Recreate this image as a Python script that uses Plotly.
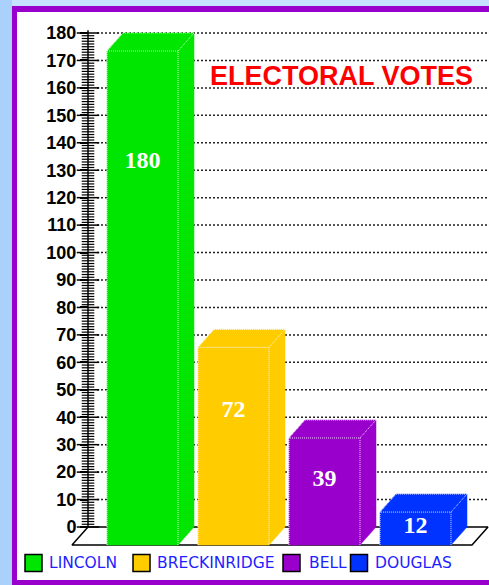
import plotly.graph_objects as go
import math

# ---- data ----
candidates = ["LINCOLN", "BRECKINRIDGE", "BELL", "DOUGLAS"]
electoral_votes = [180, 72, 39, 12]
bar_colors = ["#00e600", "#ffcc00", "#9900cc", "#0033ff"]
tick_values = list(range(0, 181, 10))
tick_labels = [str(v) for v in tick_values]
title_text = "ELECTORAL VOTES"

# ---- geometry (layout constants, pixels) ----
W, H = 489, 585
Y0_PX, Y180_PX = 527, 33              # pixel rows of value 0 and 180
PPU = (Y0_PX - Y180_PX) / 180.0       # pixels per vote
X_UNIT = 91.0                         # pixels per category step
X0_PX = 142.5                         # centre of first bar front face
legend_square_px = [33.5, 141.5, 291.5, 359]
legend_text_px = [47, 155, 307, 373]
legend_row_px = 563

y_lo = -(H - Y0_PX) / PPU
y_hi = Y0_PX / PPU
x_lo = -X0_PX / X_UNIT
x_hi = (W - X0_PX) / X_UNIT

def px_x(p):
    return (p - X0_PX) / X_UNIT

def px_y(p):
    return (Y0_PX - p) / PPU

half_w = 0.39
dx = 16 / X_UNIT      # depth offset in x
dy = 18 / PPU         # depth offset in y
axis_x = px_x(88)

fig = go.Figure()

# floor
fl_x = [axis_x, px_x(488), px_x(488) - dx, axis_x - dx, axis_x]
fl_y = [0, 0, -dy, -dy, 0]
fig.add_trace(go.Scatter(x=fl_x, y=fl_y, mode="lines", fill="toself",
                         fillcolor="white", line=dict(color="black", width=1.5),
                         hoverinfo="skip", showlegend=False))

# dotted gridlines
gx, gy = [], []
for v in tick_values[1:]:
    gx += [px_x(97), x_hi, None]
    gy += [v, v, None]
fig.add_trace(go.Scatter(x=gx, y=gy, mode="lines",
                         line=dict(color="#222222", width=1.5, dash="2px,2px"),
                         hoverinfo="skip", showlegend=False))

# axis line and crossing ticks
fig.add_trace(go.Scatter(x=[axis_x, axis_x], y=[0, 181], mode="lines",
                         line=dict(color="black", width=1.5),
                         hoverinfo="skip", showlegend=False))
minor = [v for v in range(0, 181) if v % 10 != 0]
fig.add_trace(go.Scatter(x=[axis_x] * len(minor), y=minor, mode="markers",
                         marker=dict(symbol="line-ew", size=9,
                                     line=dict(color="black", width=1.2)),
                         hoverinfo="skip", showlegend=False))
fig.add_trace(go.Scatter(x=[axis_x] * len(tick_values), y=tick_values, mode="markers",
                         marker=dict(symbol="line-ew", size=16,
                                     line=dict(color="black", width=1.5)),
                         hoverinfo="skip", showlegend=False))

# 3D bars
for i, (name, v, c) in enumerate(zip(candidates, electoral_votes, bar_colors)):
    L, R = i - half_w, i + half_w
    bx = [L, L, L + dx, R + dx, R + dx, R, L]
    by = [-dy, v - dy, v, v, 0, -dy, -dy]
    fig.add_trace(go.Scatter(x=bx, y=by, mode="lines", fill="toself",
                             fillcolor=c, line=dict(color=c, width=0.5),
                             hoverinfo="skip", showlegend=False))
    ex = [L, L, R, R, None, R, R + dx, None, L, L + dx, R + dx]
    ey = [-dy, v - dy, v - dy, -dy, None, v - dy, v, None, v - dy, v, v]
    fig.add_trace(go.Scatter(x=ex, y=ey, mode="lines",
                             line=dict(color="rgba(255,255,255,0.85)", width=1, dash="1px,1px"),
                             hoverinfo="skip", showlegend=False))
    fig.add_trace(go.Scatter(x=[i], y=[v - 3.5 * math.sqrt(v)], mode="text",
                             text=[str(v)],
                             textfont=dict(family="Liberation Serif", size=24,
                                           color="white", weight="bold"),
                             hoverinfo="skip", showlegend=False))

# legend squares (drawn as markers on the chart's own axes)
fig.add_trace(go.Scatter(x=[px_x(p) for p in legend_square_px],
                         y=[px_y(legend_row_px)] * len(candidates),
                         mode="markers",
                         marker=dict(symbol="square", size=17, color=bar_colors,
                                     line=dict(color="black", width=1.5)),
                         hoverinfo="skip", showlegend=False))

annotations = [dict(text=title_text, xref="paper", yref="paper",
                    x=341 / W, y=1 - 76 / H, xanchor="center", yanchor="middle",
                    showarrow=False,
                    font=dict(family="Liberation Sans", size=27, color="#ff0000",
                              weight="bold"))]
for name, p in zip(candidates, legend_text_px):
    annotations.append(dict(text=name, xref="paper", yref="paper",
                            x=p / W, y=1 - legend_row_px / H,
                            xanchor="left", yanchor="middle", showarrow=False,
                            font=dict(family="DejaVu Sans", size=15.5, color="#1e1eff")))

shapes = [
    dict(type="rect", xref="paper", yref="paper", x0=0, x1=12 / W, y0=0, y1=1,
         fillcolor="#a9d1fb", line=dict(width=0), layer="below"),
    dict(type="rect", xref="paper", yref="paper", x0=12 / W, x1=1.01, y0=0, y1=1 - 6 / H,
         fillcolor="#9900cc", line=dict(width=0), layer="below"),
    dict(type="rect", xref="paper", yref="paper", x0=17 / W, x1=1.01, y0=5 / H, y1=1 - 12 / H,
         fillcolor="white", line=dict(width=0), layer="below"),
]

fig.update_layout(
    width=W, height=H,
    margin=dict(l=0, r=0, t=0, b=0),
    paper_bgcolor="#c6e2fe",
    plot_bgcolor="rgba(0,0,0,0)",
    shapes=shapes,
    annotations=annotations,
    showlegend=False,
    xaxis=dict(range=[x_lo, x_hi], visible=False, domain=[0, 1], automargin=False),
    yaxis=dict(range=[y_lo, y_hi], domain=[0, 1], anchor="free", position=88 / W,
               automargin=False,
               showline=False, showgrid=False, zeroline=False,
               tickmode="array", tickvals=tick_values, ticktext=tick_labels,
               ticks="outside", ticklen=8, tickwidth=1.5, tickcolor="black",
               tickfont=dict(family="Liberation Sans", size=18, color="black", weight="bold")),
)

fig.write_html("out.html", config={"displayModeBar": False},
               post_script="document.body.style.margin='0';document.body.style.padding='0';")
